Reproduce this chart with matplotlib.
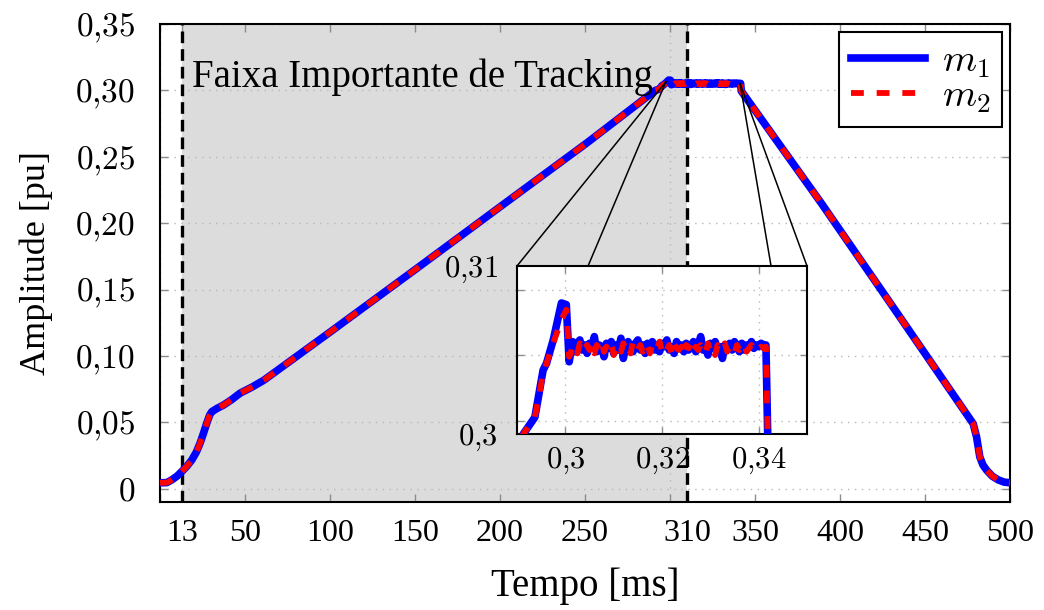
import numpy as np
import matplotlib
matplotlib.use("Agg")
import matplotlib.pyplot as plt
from matplotlib.ticker import FixedLocator, NullFormatter
from matplotlib.patches import ConnectionPatch
from matplotlib.lines import Line2D

plt.rcParams['font.family'] = ['Liberation Serif', 'DejaVu Serif']
plt.rcParams['mathtext.fontset'] = 'cm'

# ---- data: amplitude [pu] versus time [ms] ----
# soft start and ramp (shared by both estimates)
rise_t = [0.0, 4.0, 6.9, 10.0, 12.8, 15.8, 18.7, 21.3, 23.6, 25.6, 27.5, 29.2, 30.4,
          33.5, 37.3, 42.0, 47.1, 54.0, 61.0, 100.0, 150.0, 206.0, 251.0, 291.3]
rise_v = [0.0045, 0.0046, 0.0067, 0.0095, 0.0130, 0.0170, 0.0217, 0.0275, 0.0345,
          0.0420, 0.0495, 0.0555, 0.0580, 0.0605, 0.0630, 0.0670, 0.0720, 0.0765,
          0.0817, 0.1180, 0.1650, 0.2180, 0.2604, 0.3000]

# overshoot at the top of the ramp
peak_t = [293.7, 295.4, 296.1, 297.5, 299.2, 300.2, 300.8, 301.2]
peak_m1 = [0.3010, 0.3038, 0.3042, 0.3056, 0.3078, 0.3077, 0.3043, 0.3050]
peak_m2 = [0.3010, 0.3036, 0.3042, 0.3054, 0.3068, 0.3074, 0.3046, 0.3049]

# plateau (301.5 ms .. 341.5 ms, every 0.5 ms)
plat_t = [301.5 + 0.5 * i for i in range(81)]
plat_m1 = [0.3055, 0.3049, 0.3054, 0.3056, 0.3050, 0.3053, 0.3048, 0.3054, 0.3051,
           0.3058, 0.3049, 0.3053, 0.3052, 0.3046, 0.3054, 0.3051, 0.3055, 0.3048, 0.3053,
           0.3050, 0.3057, 0.3045, 0.3052, 0.3055, 0.3051, 0.3049, 0.3054, 0.3056, 0.3050,
           0.3053, 0.3048, 0.3054, 0.3052, 0.3055, 0.3050, 0.3053, 0.3049, 0.3054, 0.3052,
           0.3056, 0.3050, 0.3052, 0.3048, 0.3055, 0.3051, 0.3053, 0.3049, 0.3054, 0.3050,
           0.3052, 0.3055, 0.3049, 0.3053, 0.3058, 0.3050, 0.3052, 0.3047, 0.3054, 0.3051,
           0.3055, 0.3050, 0.3052, 0.3045, 0.3053, 0.3051, 0.3054, 0.3050, 0.3055, 0.3052,
           0.3049, 0.3054, 0.3050, 0.3053, 0.3052, 0.3055, 0.3051, 0.3053, 0.3052, 0.3054,
           0.3053, 0.3053]
plat_m2 = [0.3053, 0.3051, 0.3048, 0.3054, 0.3052, 0.3049, 0.3053, 0.3050, 0.3054,
           0.3048, 0.3053, 0.3051, 0.3055, 0.3049, 0.3052, 0.3050, 0.3054, 0.3047, 0.3053,
           0.3051, 0.3049, 0.3054, 0.3050, 0.3052, 0.3048, 0.3055, 0.3051, 0.3050, 0.3053,
           0.3049, 0.3052, 0.3054, 0.3048, 0.3053, 0.3050, 0.3051, 0.3055, 0.3049, 0.3052,
           0.3050, 0.3053, 0.3048, 0.3054, 0.3051, 0.3050, 0.3052, 0.3047, 0.3053, 0.3051,
           0.3054, 0.3049, 0.3052, 0.3050, 0.3053, 0.3051, 0.3048, 0.3054, 0.3050, 0.3052,
           0.3047, 0.3053, 0.3051, 0.3050, 0.3054, 0.3049, 0.3052, 0.3051, 0.3048, 0.3053,
           0.3050, 0.3052, 0.3054, 0.3049, 0.3051, 0.3053, 0.3050, 0.3052, 0.3051, 0.3052,
           0.3051, 0.3052]

# ramp down and soft stop (shared)
fall_t = [341.9, 389.0, 430.0, 478.3, 480.3, 482.2, 484.0, 486.2, 489.5, 493.0, 496.5, 500.0]
fall_v = [0.2995, 0.2150, 0.1390, 0.0490, 0.0390, 0.0240, 0.0180, 0.0140, 0.0095,
          0.0067, 0.0050, 0.0045]

t_ms = np.array(rise_t + peak_t + plat_t + fall_t)
m1 = np.array(rise_v + peak_m1 + plat_m1 + fall_v)
m2 = np.array(rise_v + peak_m2 + plat_m2 + fall_v)

band = (13, 310)
xtick_vals = [13, 50, 100, 150, 200, 250, 310, 350, 400, 450, 500]
ytick_vals = [0, 0.05, 0.10, 0.15, 0.20, 0.25, 0.30, 0.35]
ytick_text = ['0', '0,05', '0,10', '0,15', '0,20', '0,25', '0,30', '0,35']
inset_xticks = [0.30, 0.32, 0.34]
inset_xtext = ['0,3', '0,32', '0,34']
inset_yticks = [0.30, 0.31]
inset_ytext = ['0,3', '0,31']

BLUE = (0, 0, 1)
RED = (1, 0, 0)
GRID = dict(color='0.72', linestyle=(0, (1, 4)), linewidth=1.0)


def cm(s):
    return '$' + s.replace(',', '{,}') + '$'


fig = plt.figure(figsize=(10.44, 6.10), dpi=100)
ax = fig.add_axes([0.1533, 0.1770, 0.8142, 0.7836])

ax.axvspan(*band, color='#dcdcdc', zorder=0.5, lw=0)
for xv in band:
    ax.axvline(xv, color='black', lw=2.4, dashes=(3.5, 1.8), zorder=3)

ax.plot(t_ms, m1, color=BLUE, lw=5.5, solid_capstyle='round', zorder=4)
ax.plot(t_ms, m2, color=RED, lw=4.2, dashes=(2.2, 2.2), dash_capstyle='butt', zorder=5)

ax.set_xlim(0, 500)
ax.set_ylim(-0.01, 0.35)
ax.set_axisbelow('line')

ax.xaxis.set_major_locator(FixedLocator(xtick_vals))
ax.set_xticklabels([str(v) for v in xtick_vals], fontsize=23)
ax.xaxis.set_minor_locator(FixedLocator(list(range(0, 501, 50))))
ax.xaxis.set_minor_formatter(NullFormatter())
ax.yaxis.set_major_locator(FixedLocator(ytick_vals))
ax.set_yticklabels([cm(s) for s in ytick_text], fontsize=24)

ax.tick_params(axis='x', which='major', direction='in', length=6, width=1,
               color='0.55', top=True, pad=12)
ax.tick_params(axis='y', which='major', direction='in', length=6, width=1,
               color='0.55', right=True, pad=18)
ax.tick_params(axis='x', which='minor', direction='in', length=6, width=1,
               color='0.55', top=True)
ax.grid(axis='x', which='minor', **GRID)
ax.grid(axis='y', which='major', **GRID)
for sp in ax.spines.values():
    sp.set_linewidth(1.5)

ax.set_xlabel('Tempo [ms]', fontsize=28, labelpad=14)
ax.set_ylabel('Amplitude [pu]', fontsize=26, labelpad=16)

ax.text(19, 0.3028, 'Faixa Importante de Tracking', fontsize=28, ha='left',
        va='baseline', zorder=6)

handles = [Line2D([], [], color=BLUE, lw=5.5),
           Line2D([], [], color=RED, lw=4.2, dashes=(2.2, 2.2))]
leg = ax.legend(handles, [r'$m_1\ $', r'$m_2\ $'], loc='upper right', fontsize=28,
                frameon=True, fancybox=False, edgecolor='black', framealpha=1,
                handlelength=1.9, handletextpad=0.45, labelspacing=-0.05,
                borderaxespad=0.2, borderpad=0.3)
leg.get_frame().set_linewidth(1.5)
leg.set_zorder(10)

# ---- magnified view of the plateau ----
axins = fig.add_axes([0.4952, 0.2885, 0.2778, 0.2754])
axins.plot(t_ms / 1000.0, m1, color=BLUE, lw=5.5, zorder=4)
axins.plot(t_ms / 1000.0, m2, color=RED, lw=4.2, dashes=(2.2, 2.2),
           dash_capstyle='butt', zorder=5)
axins.set_xlim(0.29, 0.35)
axins.set_ylim(0.30, 0.31)
axins.xaxis.set_major_locator(FixedLocator(inset_xticks))
axins.set_xticklabels([cm(s) for s in inset_xtext], fontsize=22)
axins.yaxis.set_major_locator(FixedLocator(inset_yticks))
axins.set_yticklabels([cm(s) for s in inset_ytext], fontsize=22)
axins.yaxis.set_minor_locator(FixedLocator([0.3008, 0.3047, 0.3086]))
axins.yaxis.set_minor_formatter(NullFormatter())
axins.tick_params(axis='both', which='both', direction='in', length=5, width=1,
                  color='0.55', top=True, right=True)
axins.tick_params(axis='y', which='major', length=0, pad=14)
axins.tick_params(axis='x', which='major', pad=8)
axins.grid(axis='x', which='major', **GRID)
axins.grid(axis='y', which='minor', **GRID)
axins.set_axisbelow('line')
for sp in axins.spines.values():
    sp.set_linewidth(1.5)
axins.set_zorder(8)

# connector lines from the plateau to the magnified view
anchors = [((297.6, 0.3066), (0.0, 1.0)), ((297.6, 0.3066), (0.245, 1.0)),
           ((341.2, 0.3052), (0.876, 1.0)), ((341.2, 0.3052), (1.0, 1.0))]
for pa, pb in anchors:
    con = ConnectionPatch(xyA=pa, coordsA=ax.transData, xyB=pb, coordsB=axins.transAxes,
                          color='black', lw=1.1, zorder=7)
    fig.add_artist(con)

fig.savefig('out.png', dpi=100)
